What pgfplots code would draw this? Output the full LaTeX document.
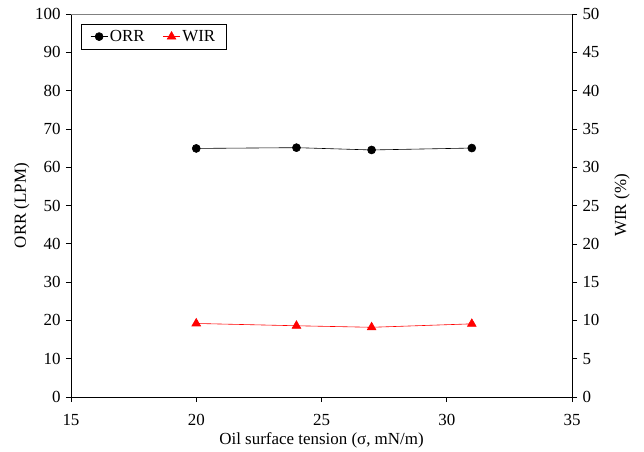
\documentclass[border=0pt]{standalone}
\usepackage{pgfplots}
\pgfplotsset{compat=1.18}
\usepackage{fontspec}
\setmainfont{Liberation Serif}
\begin{document}
\begin{tikzpicture}
\pgfplotsset{
  every axis/.append style={
    width=501bp, height=383bp, scale only axis,
    xmin=15, xmax=35, xtick={15,20,...,35},
    tick align=outside, tick style={black, semithick},
    major tick length=5bp,
    /pgf/number format/assume math mode=true,
    tick label style={font=\fontsize{17}{19}\selectfont},
    label style={font=\fontsize{17}{19}\selectfont},
    axis line style={semithick},
  }
}
\begin{axis}[
  name=main,
  axis y line*=left, axis x line*=bottom,
  ymin=0, ymax=100, ytick={0,10,...,100},
  xlabel={Oil surface tension (σ, mN/m)},
  ylabel={ORR (LPM)},
  xlabel style={at={(axis description cs:0.5,-0.112)}, anchor=center},
  ylabel style={at={(axis description cs:-0.098,0.5)}, anchor=center, rotate=0},
  yticklabel shift=2bp,
  every x tick label/.append style={anchor=center, yshift=-18bp},
  xtick pos=bottom,
]
\addplot[black, semithick, mark=*, mark size=4bp] coordinates {
  (20,64.9) (24,65.1) (27,64.5) (31,65.0)
};
\end{axis}
\begin{axis}[
  axis y line*=right, axis x line=none,
  ymin=0, ymax=50, ytick={0,5,...,50},
  ylabel={WIR (\%)},
  ylabel style={at={(axis description cs:1.0998,0.5)}, anchor=center, rotate=0},
  yticklabel shift=2bp,
  legend style={at={(0.02,0.974)}, anchor=north west, draw=black, semithick,
    legend columns=2, font=\fontsize{17}{19}\selectfont,
    /tikz/every even column/.append style={column sep=16bp},
    inner xsep=9bp, inner ysep=4bp},
  legend cell align=left,
]
\addlegendimage{black, semithick, mark=*, mark size=4bp}
\addlegendentry{ORR}
\addplot[red, semithick, mark=triangle*, mark size=5bp] coordinates {
  (20,9.6) (24,9.3) (27,9.1) (31,9.55)
};
\addlegendentry{WIR}
\draw[gray, semithick] (rel axis cs:0,1) -- (rel axis cs:1,1);
\end{axis}
\pgfresetboundingbox
\path[use as bounding box] ([shift={(-71bp,-55bp)}]main.south west) rectangle ([shift={(72bp,14bp)}]main.north east);
\end{tikzpicture}
\end{document}
